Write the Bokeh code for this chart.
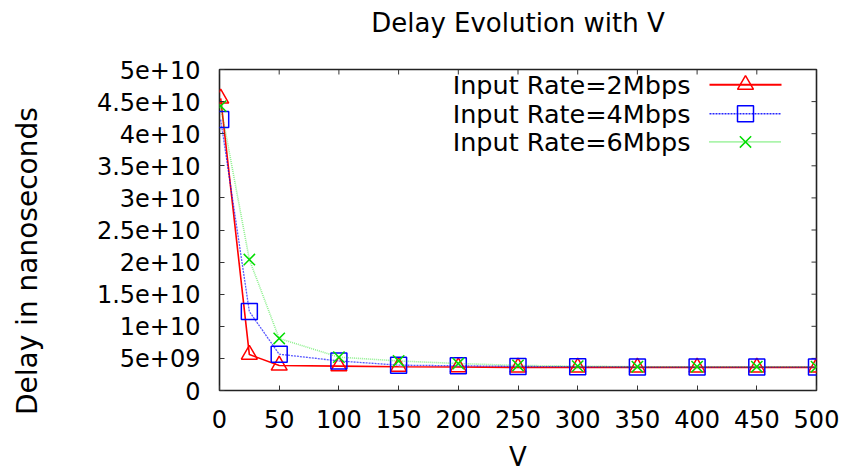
import math
from bokeh.plotting import figure
from bokeh.models import Range1d, FixedTicker, Label
from bokeh.embed import file_html
from bokeh.resources import INLINE

# ---------------- data ----------------
V = [1, 25, 50, 100, 150, 200, 250, 300, 350, 400, 450, 500]
delay_2mbps = [45.5e9, 5.6e9, 3.9e9, 3.8e9, 3.7e9, 3.65e9, 3.6e9, 3.6e9, 3.6e9, 3.6e9, 3.6e9, 3.6e9]
delay_4mbps = [42.2e9, 12.3e9, 5.65e9, 4.6e9, 3.95e9, 3.85e9, 3.75e9, 3.7e9, 3.65e9, 3.65e9, 3.65e9, 3.65e9]
delay_6mbps = [44.3e9, 20.4e9, 8.1e9, 5.2e9, 4.6e9, 4.2e9, 3.9e9, 3.8e9, 3.7e9, 3.7e9, 3.7e9, 3.7e9]
series_names = ["Input Rate=2Mbps", "Input Rate=4Mbps", "Input Rate=6Mbps"]

x_ticks = [0, 50, 100, 150, 200, 250, 300, 350, 400, 450, 500]
y_ticks = [0, 5e9, 1e10, 1.5e10, 2e10, 2.5e10, 3e10, 3.5e10, 4e10, 4.5e10, 5e10]
y_tick_labels = ["0", "5e+09", "1e+10", "1.5e+10", "2e+10", "2.5e+10",
                 "3e+10", "3.5e+10", "4e+10", "4.5e+10", "5e+10"]

title_text = "Delay Evolution with V"
x_label = "V"
y_label = "Delay in nanoseconds"

# ---------------- styles ----------------
FONT = "DejaVu Sans"
colors = ["#ff0000", "#0000ff", "#00dd00"]
markers = ["triangle", "square", "x"]
line_dash = ["solid", "2 1", "1 1"]
line_alpha = [1.0, 0.65, 0.45]
line_width = [1.6, 1.3, 1.6]
FW, FH = 597, 322   # frame size in px

p = figure(width=848, height=474,
           x_range=Range1d(0, 500), y_range=Range1d(0, 5e10),
           output_backend="svg", toolbar_location=None,
           min_border_left=219, min_border_right=32,
           min_border_top=69, min_border_bottom=83)
p.background_fill_color = "white"
p.border_fill_color = "white"
p.grid.visible = False
p.outline_line_color = "#222222"
p.outline_line_width = 1.6
p.outline_line_alpha = 1.0

# title (an empty second line lifts the text up within the top border)
p.title.text = title_text + "\n"
p.title.align = "center"
p.title.text_font = FONT
p.title.text_font_size = "26px"
p.title.text_font_style = "normal"
p.title.text_color = "black"
p.title.text_line_height = 1.0
p.title.standoff = 4

# pixel ranges for in-frame layout items
p.extra_x_ranges = {"px": Range1d(0, FW)}
p.extra_y_ranges = {"px": Range1d(0, FH)}

# axes
for ax in p.xaxis:
    ax.ticker = FixedTicker(ticks=x_ticks)
    ax.major_label_standoff = 19
    ax.axis_label = x_label
    ax.axis_label_standoff = 11
for ax in p.yaxis:
    ax.ticker = FixedTicker(ticks=y_ticks)
    ax.major_label_overrides = dict(zip(y_ticks, y_tick_labels))
    ax.major_label_standoff = 19
    ax.axis_label = y_label + "\u00a0" * 7
    ax.axis_label_standoff = 50
for ax in p.xaxis + p.yaxis:
    ax.axis_line_color = None
    ax.major_tick_in = 5
    ax.major_tick_out = 0
    ax.major_tick_line_color = "#333333"
    ax.minor_tick_line_color = None
    ax.major_label_text_font = FONT
    ax.major_label_text_font_size = "24px"
    ax.major_label_text_color = "black"
    ax.axis_label_text_font = FONT
    ax.axis_label_text_font_size = "26px"
    ax.axis_label_text_font_style = "normal"
    ax.axis_label_text_color = "black"
p.yaxis.axis_label_text_font_size = "28px"

# mirror ticks on top and right edges (inside the frame)
p.segment(x0=x_ticks, x1=x_ticks, y0=[FH] * len(x_ticks), y1=[FH - 5] * len(x_ticks),
          y_range_name="px", line_color="#333333", line_width=1)
p.segment(x0=[FW] * len(y_ticks), x1=[FW - 5] * len(y_ticks), y0=y_ticks, y1=y_ticks,
          x_range_name="px", line_color="#333333", line_width=1)

# series
all_series = [delay_2mbps, delay_4mbps, delay_6mbps]
for i, ys in enumerate(all_series):
    p.line(V, ys, line_color=colors[i], line_width=line_width[i],
           line_dash=line_dash[i], line_alpha=line_alpha[i])
    p.scatter(V, ys, marker=markers[i], size=16, fill_color=None,
              line_color=colors[i], line_width=1.5)

# legend (drawn manually: label on left, sample on right)
legend_rows = [306.7, 277.7, 249.3]
for i, name in enumerate(series_names):
    ry = legend_rows[i]
    p.line([490, 562], [ry, ry], x_range_name="px", y_range_name="px",
           line_color=colors[i], line_width=line_width[i] + 0.2,
           line_dash=line_dash[i], line_alpha=min(1.0, line_alpha[i] + 0.2))
    p.scatter([526], [ry], x_range_name="px", y_range_name="px",
              marker=markers[i], size=16, fill_color=None,
              line_color=colors[i], line_width=1.5)
    p.add_layout(Label(x=471, y=ry, x_range_name="px", y_range_name="px",
                       text=name, text_align="right", text_baseline="middle",
                       text_font=FONT, text_font_size="25.5px", text_color="black"))

open("out.html", "w").write(file_html(p, INLINE))
